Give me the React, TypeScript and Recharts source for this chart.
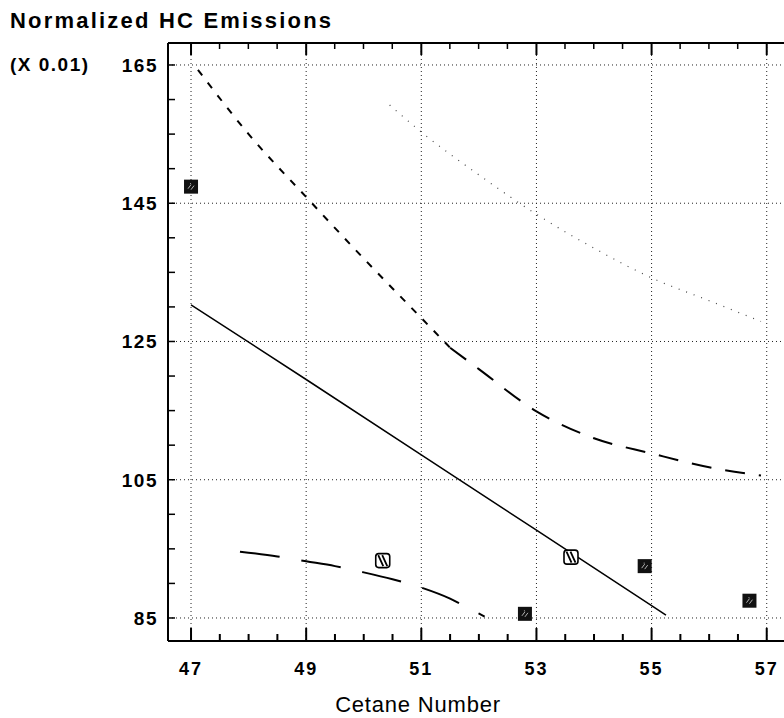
import { ComposedChart, Line, Scatter, XAxis, YAxis, CartesianGrid } from 'recharts';

// cetane number (x) / normalized HC emissions x0.01 (y)
const solidCN = [47, 49, 51, 53, 55, 55.25];
const solidHC = [130.3, 119.5, 108.6, 97.7, 86.8, 85.4];

const lowerCN = [47.85, 48.5, 49, 49.5, 50, 50.5, 51, 51.5, 51.8, 52.1];
const lowerHC = [94.6, 93.9, 93.2, 92.5, 91.6, 90.6, 89.4, 87.8, 86.5, 85.2];

const midSteepCN = [47.12, 48, 49, 50, 51, 51.5];
const midSteepHC = [164.3, 155, 145.9, 137, 128.4, 124.1];
const midFlatCN = [51.5, 52, 53, 54, 55, 56, 56.9];
const midFlatHC = [124.1, 121, 114.9, 111, 108.8, 106.8, 105.6];

const dottedCN = [50.45, 51, 52, 53, 54, 55, 56, 56.9];
const dottedHC = [159.2, 155.3, 149.1, 143.4, 138.5, 134.2, 130.9, 127.9];

const filledCN = [47, 52.8, 54.88, 56.7];
const filledHC = [147.4, 85.6, 92.5, 87.5];
const hatchedCN = [50.33, 53.6];
const hatchedHC = [93.3, 93.8];

const xMajor = [47, 49, 51, 53, 55, 57];
const xTicks = [47, 47.5, 48, 48.5, 49, 49.5, 50, 50.5, 51, 51.5, 52, 52.5, 53, 53.5, 54, 54.5, 55, 55.5, 56, 56.5, 57];
const yMajor = [85, 105, 125, 145, 165];
const yTicks = [85, 90, 95, 100, 105, 110, 115, 120, 125, 130, 135, 140, 145, 150, 155, 160, 165];

const X_MIN = 46.6;
const X_MAX = 57.3;
const Y_MIN = 81.67;
const Y_MAX = 168.18;

const pts = (xs: number[], ys: number[]) => xs.map((x, i) => ({ x, y: ys[i] }));
const bottomMarks = xTicks.map((x) => ({ x, y: Y_MIN }));
const topMarks = xTicks.map((x) => ({ x, y: Y_MAX }));

const FONT = '"Liberation Sans", Arial, sans-serif';

const renderBottomLabel = (props: any) => {
  const { x, y, payload } = props;
  if (!xMajor.includes(payload.value)) return <g />;
  return (
    <text x={x} y={y + 34} textAnchor="middle" fontFamily={FONT} fontWeight="bold" fontSize={18} letterSpacing={2} fill="#000">
      {payload.value}
    </text>
  );
};

const renderLeftLabel = (props: any) => {
  const { x, y, payload } = props;
  if (!yMajor.includes(payload.value)) return <g />;
  return (
    <text x={x - 10} y={y + 7} textAnchor="end" fontFamily={FONT} fontWeight="bold" fontSize={19} letterSpacing={1.5} fill="#000">
      {payload.value}
    </text>
  );
};

// inward tick marks on the bottom and top frame, placed by the x scale
const BottomStub = (p: any) => {
  const major = xMajor.includes(p.payload?.x);
  const len = major ? 13 : 7;
  return <rect x={p.cx - 1} y={p.cy - len} width={2} height={len} fill="#000" />;
};
const TopStub = (p: any) => {
  const major = xMajor.includes(p.payload?.x);
  return <rect x={p.cx - 1} y={p.cy} width={major ? 2 : 1.5} height={major ? 12 : 6} fill="#000" />;
};

const FilledSquare = (props: any) => {
  const { cx, cy } = props;
  return (
    <g>
      <rect x={cx - 7} y={cy - 7} width={14} height={14} fill="#111" />
      <path d={`M${cx - 3} ${cy + 2} l3 -4 M${cx} ${cy + 3} l3 -4 M${cx - 1} ${cy - 3} l1 0`} stroke="#ddd" strokeWidth={0.8} />
    </g>
  );
};

const HatchedSquare = (props: any) => {
  const { cx, cy } = props;
  return (
    <g>
      <rect x={cx - 7} y={cy - 7} width={14} height={14} rx={3} fill="#fff" stroke="#000" strokeWidth={1.6} />
      <path d={`M${cx - 4.5} ${cy - 5.5} L${cx + 0.5} ${cy + 5.5} M${cx - 0.5} ${cy - 5.5} L${cx + 4.5} ${cy + 5.5}`} stroke="#000" strokeWidth={1.8} />
    </g>
  );
};

export default function App() {
  return (
    <div style={{ position: 'relative', width: 784, height: 718, background: '#fff', overflow: 'hidden' }}>
      <style>{'body{margin:0}'}</style>
      <div style={{ position: 'absolute', left: 8, top: 8 }}>
        <ComposedChart width={776} height={710} margin={{ top: 0, right: 0, bottom: 0, left: 0 }}>
          <CartesianGrid
            xAxisId="b"
            horizontalValues={yMajor}
            verticalValues={xMajor}
            stroke="#222"
            strokeDasharray="1 3"
          />
          <XAxis
            xAxisId="b"
            dataKey="x"
            type="number"
            domain={[X_MIN, X_MAX]}
            allowDataOverflow
            ticks={xTicks}
            interval={0}
            tickSize={0}
            tickMargin={0}
            tickLine={false}
            tick={renderBottomLabel}
            height={77}
            axisLine={{ stroke: '#000', strokeWidth: 2 }}
          />
          <XAxis
            xAxisId="t"
            orientation="top"
            dataKey="x"
            type="number"
            domain={[X_MIN, X_MAX]}
            allowDataOverflow
            tick={false}
            tickLine={false}
            height={35}
            axisLine={{ stroke: '#000', strokeWidth: 2 }}
          />
          <YAxis
            dataKey="y"
            type="number"
            domain={[Y_MIN, Y_MAX]}
            allowDataOverflow
            ticks={yTicks}
            interval={0}
            tickSize={-7}
            tickMargin={7}
            tickLine={{ stroke: '#000', strokeWidth: 1.5 }}
            tick={renderLeftLabel}
            width={160}
            axisLine={{ stroke: '#000', strokeWidth: 2 }}
          />
          <Scatter xAxisId="b" data={bottomMarks} shape={<BottomStub />} isAnimationActive={false} />
          <Scatter xAxisId="b" data={topMarks} shape={<TopStub />} isAnimationActive={false} />
          <Line xAxisId="b" data={pts(solidCN, solidHC)} dataKey="y" type="linear" stroke="#000" strokeWidth={1.5} dot={false} isAnimationActive={false} />
          <Line xAxisId="b" data={pts(lowerCN, lowerHC)} dataKey="y" type="monotone" stroke="#000" strokeWidth={2} strokeDasharray="40 22" dot={false} isAnimationActive={false} />
          <Line xAxisId="b" data={pts(midSteepCN, midSteepHC)} dataKey="y" type="monotone" stroke="#000" strokeWidth={2} strokeDasharray="7 9" dot={false} isAnimationActive={false} />
          <Line xAxisId="b" data={pts(midFlatCN, midFlatHC)} dataKey="y" type="monotone" stroke="#000" strokeWidth={2} strokeDasharray="20 14" dot={false} isAnimationActive={false} />
          <Line xAxisId="b" data={pts(dottedCN, dottedHC)} dataKey="y" type="monotone" stroke="#444" strokeWidth={1.2} strokeDasharray="1 7" dot={false} isAnimationActive={false} />
          <Scatter xAxisId="b" data={pts(filledCN, filledHC)} shape={<FilledSquare />} isAnimationActive={false} />
          <Scatter xAxisId="b" data={pts(hatchedCN, hatchedHC)} shape={<HatchedSquare />} isAnimationActive={false} />
        </ComposedChart>
      </div>
      <svg width={784} height={718} style={{ position: 'absolute', left: 0, top: 0, pointerEvents: 'none' }}>
        <text x={10} y={28} fontFamily={FONT} fontWeight="bold" fontSize={22} letterSpacing={2.2} fill="#000">
          Normalized HC Emissions
        </text>
        <text x={10} y={71} fontFamily={FONT} fontWeight="bold" fontSize={19} letterSpacing={1.5} fill="#000">
          (X 0.01)
        </text>
        <text x={418} y={712} textAnchor="middle" fontFamily={FONT} fontSize={22} letterSpacing={0.8} fill="#000">
          Cetane Number
        </text>
      </svg>
    </div>
  );
}
